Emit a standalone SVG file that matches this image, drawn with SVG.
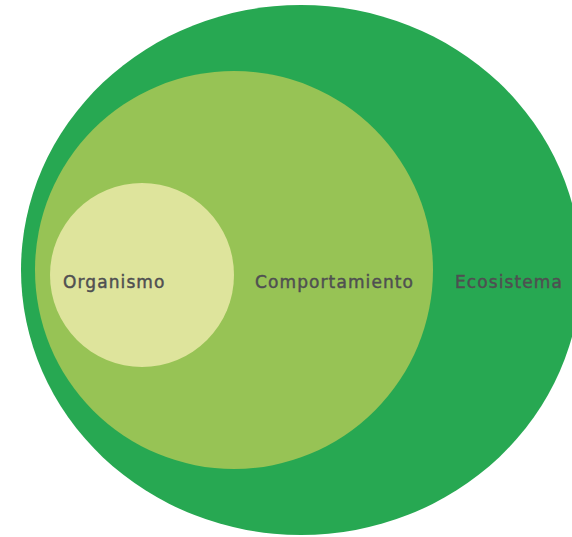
<svg xmlns="http://www.w3.org/2000/svg" width="572" height="537" viewBox="0 0 572 537">
  <style>
    .lbl { font-family: "DejaVu Sans", "Liberation Sans", sans-serif; font-size: 17px; fill: #4f4f51; stroke: #4f4f51; stroke-width: 0.45px; letter-spacing: 1.1px; }
  </style>
  <rect x="0" y="0" width="572" height="537" fill="#ffffff"/>
  <g id="ecosistema">
    <ellipse cx="301" cy="270" rx="280" ry="265" fill="#27a852"/>
    <text class="lbl" x="455" y="288">Ecosistema</text>
  </g>
  <g id="comportamiento">
    <circle cx="234" cy="270" r="199" fill="#97c355"/>
    <text class="lbl" x="255" y="288">Comportamiento</text>
  </g>
  <g id="organismo">
    <circle cx="142" cy="275" r="92" fill="#dee49c"/>
    <text class="lbl" x="63" y="288">Organismo</text>
  </g>
  <g id="connectors"></g>
</svg>
